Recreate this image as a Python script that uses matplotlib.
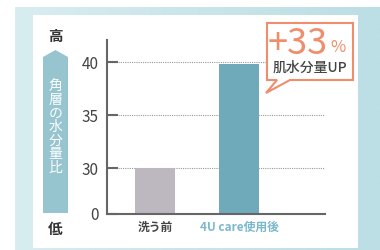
import numpy as np
import matplotlib
matplotlib.use("Agg")
import matplotlib.pyplot as plt
from matplotlib.patches import Rectangle, Polygon
from matplotlib.colors import LinearSegmentedColormap

plt.rcParams['font.family'] = ['Noto Sans CJK JP', 'DejaVu Sans']

# データ
categories = ['洗う前', '4U care使用後']
values = [30, 39.8]
bar_colors = ['#bdb8bf', '#6faabb']
label_colors = ['#444444', '#7ab8cc']
yticks = [0, 30, 35, 40]
gridlines = [30, 35, 40]

W, H = 380, 250
fig = plt.figure(figsize=(W / 100, H / 100), dpi=100)

# 背景 (ピクセル座標, 上から下)
bg = fig.add_axes([0, 0, 1, 1], zorder=0)
bg.set_xlim(0, W)
bg.set_ylim(H, 0)
bg.axis('off')
cmap = LinearSegmentedColormap.from_list('frame', ['#d8edf0', '#c9e5ea', '#bcdee5'])
grad = np.linspace(0, 1, 200).reshape(1, -1)
bg.imshow(grad, cmap=cmap, extent=[15, W, H, 7], aspect='auto', zorder=0)
bg.add_patch(Rectangle((33, 15), 325, 233, facecolor='white', edgecolor='none', zorder=1))

# 縦の矢印
arrow = Polygon([(43, 57), (55.5, 50), (68, 57), (68, 213), (43, 213)],
                closed=True, facecolor='#96c4cf', edgecolor='none', zorder=2)
bg.add_patch(arrow)
bg.text(55.5, 127, '\n'.join('角層の水分量比'), color='white', fontsize=10,
        ha='center', va='center', linespacing=0.97, zorder=3)
bg.text(55.5, 36, '高', color='#333333', fontsize=10.5, fontweight='bold',
        ha='center', va='center', zorder=3)
bg.text(55.5, 229, '低', color='#333333', fontsize=10.5, fontweight='bold',
        ha='center', va='center', zorder=3)

# 折れ軸 (0-30 を圧縮)
k = 46 / 10.6


def fwd(v):
    v = np.asarray(v, dtype=float)
    return np.where(v < 30, v * k / 30, k + (v - 30))


def inv(u):
    u = np.asarray(u, dtype=float)
    return np.where(u < k, u * 30 / k, 30 + (u - k))


ax = fig.add_axes([107 / W, 1 - 214 / H, (325 - 107) / W, (214 - 40) / H], zorder=2)
ax.patch.set_alpha(0)
ax.set_yscale('function', functions=(fwd, inv))
ax.set_ylim(0, 42.08)
ax.set_xlim(-0.571, 2.024)

x = np.arange(len(categories))
ax.bar(x, values, width=0.476, color=bar_colors, zorder=2)

for g in gridlines:
    ax.axhline(g, color='#999999', lw=0.8, ls=(0, (1, 1)), zorder=1)

ax.set_yticks(yticks)
ax.set_yticklabels([str(t) for t in yticks])
ax.tick_params(axis='y', direction='in', length=8, width=1.5, color='#666666',
               labelsize=11, labelcolor='#444444', pad=6)
ax.set_xticks(x)
ax.set_xticklabels(categories)
ax.tick_params(axis='x', length=0, labelsize=8.5, pad=5)
for lbl, c in zip(ax.get_xticklabels(), label_colors):
    lbl.set_color(c)
    lbl.set_fontweight('bold')
ax.minorticks_off()

for s in ['top', 'right']:
    ax.spines[s].set_visible(False)
for s in ['left', 'bottom']:
    ax.spines[s].set_color('#666666')
    ax.spines[s].set_linewidth(1.5)

# 吹き出し
fg = fig.add_axes([0, 0, 1, 1], zorder=3)
fg.set_xlim(0, W)
fg.set_ylim(H, 0)
fg.axis('off')
bubble = Polygon([(267, 23), (353, 23), (353, 80), (290, 80), (266, 93),
                  (277, 80), (267, 80)], closed=True, facecolor='white',
                 edgecolor='#f08d6c', lw=1.5, joinstyle='miter')
fg.add_patch(bubble)
fg.text(268, 44, '+33', color='#f08d6c', fontsize=26, ha='left', va='center')
fg.text(330, 48, '%', color='#f08d6c', fontsize=12, ha='left', va='center')
fg.text(310, 68, '肌水分量UP', color='#444444', fontsize=10, fontweight='medium',
        ha='center', va='center')

fig.savefig('out.png', dpi=100)
